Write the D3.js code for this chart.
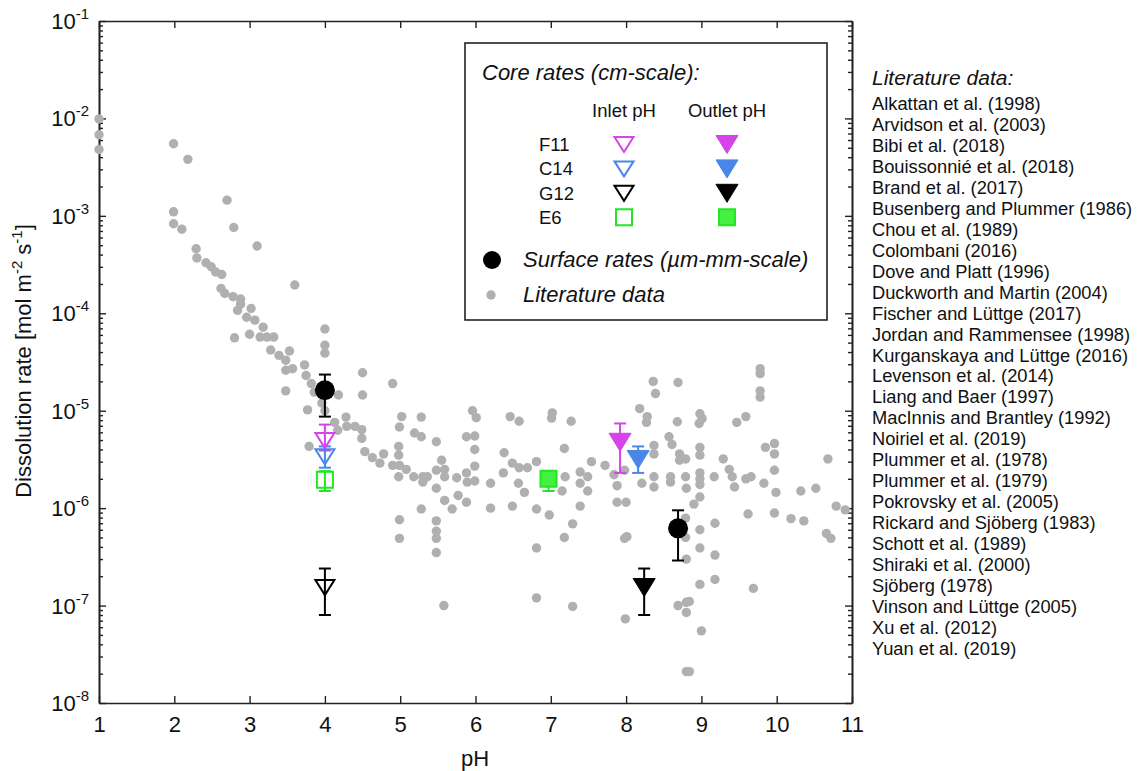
<!DOCTYPE html>
<html>
<head>
<meta charset="utf-8">
<script src="https://cdn.jsdelivr.net/npm/d3@7"></script>
<style>
  body { margin: 0; background: #fff; }
  text { font-family: "Liberation Sans", Arial, sans-serif; }
</style>
</head>
<body>
<svg id="chart" width="1141" height="771"></svg>
<script>
// literature data [pH, rate in mol m-2 s-1]
var litData = [
  [1.00,9.9e-3],[1.00,6.8e-3],[1.00,4.8e-3],[1.99,5.5e-3],[2.18,3.8e-3],[2.70,1.45e-3],[1.99,1.1e-3],[1.99,8.3e-4],
  [2.10,7.3e-4],[2.79,7.6e-4],[3.10,4.9e-4],[2.29,4.6e-4],[2.30,3.7e-4],[2.42,3.3e-4],[2.49,3.0e-4],[2.55,2.65e-4],
  [2.63,2.5e-4],[3.60,1.95e-4],[2.62,1.8e-4],[2.67,1.6e-4],[2.78,1.48e-4],[2.88,1.4e-4],[2.88,1.24e-4],[2.84,1.07e-4],
  [3.02,1.12e-4],[2.96,9.1e-5],[3.07,8.5e-5],[3.18,7.2e-5],[4.00,6.9e-5],[2.80,5.6e-5],[3.00,6.1e-5],[3.14,5.7e-5],
  [3.23,5.7e-5],[3.32,5.7e-5],[3.28,4.2e-5],[3.39,3.7e-5],[3.48,3.3e-5],[3.53,4.1e-5],[4.00,4.7e-5],[4.00,3.9e-5],
  [3.73,2.95e-5],[3.48,2.6e-5],[3.57,2.7e-5],[3.75,2.3e-5],[3.82,1.9e-5],[3.48,1.6e-5],[3.86,1.55e-5],[4.18,1.45e-5],
  [4.50,2.45e-5],[4.50,1.45e-5],[3.77,1.02e-5],[3.96,1.2e-5],[4.00,1.0e-5],[4.13,7.6e-6],[4.17,6.3e-6],[4.28,8.6e-6],
  [4.29,6.9e-6],[4.40,6.9e-6],[4.49,6.4e-6],[4.49,5.2e-6],[4.53,3.8e-6],[4.63,3.3e-6],[4.73,2.9e-6],[4.78,3.6e-6],
  [3.79,4.3e-6],[4.90,1.9e-5],
  [5.02,8.7e-6],[4.99,6.8e-6],[5.28,8.6e-6],[5.19,5.9e-6],[5.28,5.4e-6],[4.98,4.3e-6],[4.98,3.5e-6],[5.48,4.8e-6],
  [4.90,2.75e-6],[4.99,2.75e-6],[5.08,2.5e-6],[5.55,3.1e-6],[5.18,2.1e-6],[5.30,2.1e-6],[5.36,2.1e-6],[5.48,2.45e-6],
  [5.59,2.5e-6],[5.59,2.1e-6],[5.75,2.05e-6],[5.88,2.3e-6],[5.88,5.4e-6],[5.99,5.5e-6],[5.99,4.0e-6],[5.96,1.0e-5],
  [6.01,8.5e-6],[5.99,2.7e-6],[4.98,2.1e-6],[5.30,1.85e-6],[5.48,1.6e-6],[5.59,1.2e-6],[5.77,1.35e-6],[5.69,9.8e-7],
  [5.88,1.15e-6],[5.28,9.8e-7],[4.99,7.6e-7],[4.99,4.9e-7],[5.48,7.4e-7],[5.48,5.8e-7],[5.48,4.9e-7],[5.48,3.5e-7],
  [5.58,1.0e-7],[5.89,1.85e-6],[5.99,1.9e-6],[6.20,1.8e-6],[6.37,2.3e-6],[6.49,2.9e-6],[6.58,2.6e-6],[6.69,2.6e-6],
  [6.81,3.0e-6],[6.38,3.7e-6],[6.46,8.7e-6],[6.58,7.8e-6],[6.57,1.8e-6],[6.65,1.45e-6],[6.20,1.0e-6],[6.49,1.05e-6],
  [6.81,9.8e-7],[6.98,8.5e-7],[6.81,3.9e-7],[6.81,1.2e-7],[7.02,9.5e-6],[7.01,8.4e-6],[7.27,7.8e-6],[7.18,4.1e-6],
  [7.19,2.1e-6],[7.15,1.5e-6],[7.39,2.35e-6],[7.39,1.8e-6],[7.49,2.1e-6],[7.49,1.5e-6],[7.54,3.0e-6],[7.39,1.05e-6],
  [7.29,6.9e-7],[7.18,5.0e-7],[7.29,9.8e-8],[7.72,2.75e-6],
  [7.88,1.7e-6],[7.84,2.2e-6],[7.88,1.15e-6],[8.00,1.15e-6],[7.98,4.9e-7],[8.01,5.1e-7],[7.99,7.3e-8],[7.98,2.45e-6],
  [8.18,1.05e-5],[8.28,8.7e-6],[8.27,7.6e-6],[8.36,2.0e-5],[8.39,1.5e-5],[8.37,4.4e-6],[8.37,3.6e-6],[8.37,2.1e-6],
  [8.37,1.65e-6],[8.21,1.8e-6],[8.68,7.7e-6],[8.69,1.95e-5],[8.57,5.4e-6],[8.61,4.5e-6],[8.71,3.6e-6],[8.71,3.1e-6],
  [8.79,3.2e-6],[8.59,2.1e-6],[8.59,1.85e-6],[8.79,2.1e-6],[8.80,1.6e-6],[8.98,9.3e-6],[9.01,8.3e-6],[8.97,7.4e-6],
  [8.98,4.2e-6],[8.98,3.5e-6],[8.98,2.3e-6],[8.98,2.0e-6],[8.98,1.75e-6],[8.98,1.3e-6],[8.90,1.1e-6],[8.79,7.9e-7],
  [8.79,5.0e-7],[8.80,3.0e-7],[8.98,6.0e-7],[8.98,3.9e-7],[8.98,1.65e-7],[9.18,7.0e-7],[9.18,3.3e-7],[9.18,1.85e-7],
  [9.69,1.5e-7],[8.69,1.0e-7],[8.80,1.08e-7],[8.84,1.1e-7],[8.80,8.5e-8],[9.00,5.5e-8],[8.80,2.1e-8],[8.84,2.1e-8],
  [9.17,2.1e-6],[9.29,3.2e-6],[9.37,2.5e-6],[9.41,2.1e-6],[9.44,1.65e-6],[9.59,2.0e-6],[9.66,2.1e-6],[9.47,7.6e-6],
  [9.59,8.7e-6],[9.78,2.7e-5],[9.78,2.4e-5],[9.78,1.6e-5],[9.78,1.38e-5],[9.85,4.2e-6],[9.97,4.6e-6],[9.97,3.6e-6],
  [9.97,2.45e-6],[9.83,1.8e-6],[9.99,1.45e-6],[10.32,1.5e-6],[10.52,1.6e-6],[10.68,3.2e-6],[10.79,1.05e-6],[10.91,9.6e-7],
  [9.62,8.7e-7],[9.97,8.9e-7],[10.19,7.8e-7],[10.36,7.4e-7],[10.66,5.5e-7],[10.72,4.9e-7]
];

// core samples
var cores = ["F11", "C14", "G12", "E6"];
var inletPH = [4.0, 4.0, 4.0, 4.0];
var inletRate = [5.0e-6, 3.4e-6, 1.55e-7, 1.96e-6];
var inletLow = [3.9e-6, 2.6e-6, 8.0e-8, 1.5e-6];
var inletHigh = [7.2e-6, 4.3e-6, 2.4e-7, 2.4e-6];
var outletPH = [7.92, 8.16, 8.24, 6.97];
var outletRate = [4.8e-6, 3.2e-6, 1.55e-7, 2.0e-6];
var outletLow = [2.3e-6, 2.3e-6, 8.0e-8, 1.5e-6];
var outletHigh = [7.4e-6, 4.3e-6, 2.4e-7, 2.4e-6];

// surface rates
var surfacePH = [4.0, 8.69];
var surfaceRate = [1.62e-5, 6.2e-7];
var surfaceLow = [8.7e-6, 2.9e-7];
var surfaceHigh = [2.35e-5, 9.5e-7];

var xTicks = [1, 2, 3, 4, 5, 6, 7, 8, 9, 10, 11];
var yExps = [-8, -7, -6, -5, -4, -3, -2, -1];

var refs = [
  "Alkattan et al. (1998)", "Arvidson et al. (2003)", "Bibi et al. (2018)", "Bouissonnié et al. (2018)",
  "Brand et al. (2017)", "Busenberg and Plummer (1986)", "Chou et al. (1989)", "Colombani (2016)",
  "Dove and Platt (1996)", "Duckworth and Martin (2004)", "Fischer and Lüttge (2017)", "Jordan and Rammensee (1998)",
  "Kurganskaya and Lüttge (2016)", "Levenson et al. (2014)", "Liang and Baer (1997)", "MacInnis and Brantley (1992)",
  "Noiriel et al. (2019)", "Plummer et al. (1978)", "Plummer et al. (1979)", "Pokrovsky et al. (2005)",
  "Rickard and Sjöberg (1983)", "Schott et al. (1989)", "Shiraki et al. (2000)", "Sjöberg (1978)",
  "Vinson and Lüttge (2005)", "Xu et al. (2012)", "Yuan et al. (2019)"
];

var colors = { F11: "#d444e8", C14: "#4a86e8", G12: "#000000", E6: "#22e622" };
var greenFill = "#45f045";
var grey = "#b0b0b0";

var svg = d3.select("#chart");

var x = d3.scaleLinear().domain([1, 11]).range([99, 852]);
var y = d3.scaleLog().domain([1e-8, 1e-1]).range([703, 21]);

var decades = yExps.map(function(e){ return Math.pow(10, e); });
var minors = y.ticks().filter(function(v){
  var l = Math.log10(v);
  return Math.abs(l - Math.round(l)) > 1e-6;
});

function styleAxis(g) {
  g.select(".domain").attr("stroke", "#222").attr("stroke-width", 1.6);
  g.selectAll(".tick line").attr("stroke", "#222").attr("stroke-width", 1.4);
}

// axes
svg.append("g").attr("transform", "translate(0,703)")
  .call(d3.axisBottom(x).tickValues(xTicks).tickSize(-7).tickSizeOuter(0).tickPadding(13).tickFormat(d3.format("d")))
  .call(styleAxis)
  .selectAll("text").attr("font-size", 22).attr("fill", "#111")
  .attr("font-family", "Liberation Sans, Arial, sans-serif");

svg.append("g").attr("transform", "translate(0,21)")
  .call(d3.axisTop(x).tickValues(xTicks).tickSize(-7).tickSizeOuter(0).tickFormat(""))
  .call(styleAxis);

svg.append("g").attr("transform", "translate(99,0)")
  .call(d3.axisLeft(y).tickValues(decades).tickSize(-7).tickSizeOuter(0).tickFormat(""))
  .call(styleAxis);
svg.append("g").attr("transform", "translate(99,0)")
  .call(d3.axisLeft(y).tickValues(minors).tickSize(-4).tickSizeOuter(0).tickFormat(""))
  .call(styleAxis);
svg.append("g").attr("transform", "translate(852,0)")
  .call(d3.axisRight(y).tickValues(decades).tickSize(-7).tickSizeOuter(0).tickFormat(""))
  .call(styleAxis);
svg.append("g").attr("transform", "translate(852,0)")
  .call(d3.axisRight(y).tickValues(minors).tickSize(-4).tickSizeOuter(0).tickFormat(""))
  .call(styleAxis);

// y tick labels with superscripts
var ylab = svg.append("g").selectAll("text").data(yExps).enter().append("text")
  .attr("x", 89)
  .attr("y", function(e){ return y(Math.pow(10, e)) + 8; })
  .attr("text-anchor", "end")
  .attr("fill", "#111");
ylab.append("tspan").attr("font-size", 22).text("10");
ylab.append("tspan").attr("font-size", 15).attr("dy", -10).text(function(e){ return e; });

// axis titles
svg.append("text").attr("x", 475).attr("y", 766).attr("text-anchor", "middle")
  .attr("font-size", 22).attr("fill", "#111").text("pH");

var yt = svg.append("text").attr("transform", "translate(31,361) rotate(-90)")
  .attr("text-anchor", "middle").attr("font-size", 22).attr("fill", "#111");
yt.append("tspan").text("Dissolution rate [mol m");
yt.append("tspan").attr("font-size", 15).attr("dy", -9).text("-2");
yt.append("tspan").attr("dy", 9).text(" s");
yt.append("tspan").attr("font-size", 15).attr("dy", -9).text("-1");
yt.append("tspan").attr("dy", 9).text("]");

// literature points
svg.append("g").selectAll("circle").data(litData).enter().append("circle")
  .attr("cx", function(d){ return x(d[0]); })
  .attr("cy", function(d){ return y(d[1]); })
  .attr("r", 4.7)
  .attr("fill", grey);

function triDown(hw, top, bot) {
  return "M" + (-hw) + "," + (-top) + "L" + hw + "," + (-top) + "L0," + bot + "Z";
}
function square(h) {
  return "M" + (-h) + "," + (-h) + "H" + h + "V" + h + "H" + (-h) + "Z";
}

function errorBar(g, px, lo, hi, col) {
  var xx = x(px);
  g.append("line").attr("x1", xx).attr("x2", xx).attr("y1", y(lo)).attr("y2", y(hi))
    .attr("stroke", col).attr("stroke-width", 2);
  [lo, hi].forEach(function(v){
    g.append("line").attr("x1", xx - 6).attr("x2", xx + 6).attr("y1", y(v)).attr("y2", y(v))
      .attr("stroke", col).attr("stroke-width", 2);
  });
}

var marks = svg.append("g");

// error bars first
cores.forEach(function(c, i){
  errorBar(marks, inletPH[i], inletLow[i], inletHigh[i], colors[c]);
  errorBar(marks, outletPH[i], outletLow[i], outletHigh[i], colors[c]);
});
surfacePH.forEach(function(p, i){
  errorBar(marks, p, surfaceLow[i], surfaceHigh[i], "#000");
});

function drawMarker(g, c, filled, cx, cy) {
  var col = colors[c];
  if (c === "E6") {
    g.append("path").attr("d", square(8))
      .attr("transform", "translate(" + cx + "," + cy + ")")
      .attr("fill", filled ? greenFill : "none")
      .attr("stroke", col).attr("stroke-width", 2);
  } else if (filled) {
    g.append("path").attr("d", triDown(11, 8.5, 9.5))
      .attr("transform", "translate(" + cx + "," + cy + ")")
      .attr("fill", col).attr("stroke", col).attr("stroke-width", 1);
  } else {
    g.append("path").attr("d", triDown(9.5, 7, 8))
      .attr("transform", "translate(" + cx + "," + cy + ")")
      .attr("fill", "none").attr("stroke", col).attr("stroke-width", 2);
  }
}

cores.forEach(function(c, i){
  drawMarker(marks, c, false, x(inletPH[i]), y(inletRate[i]));
  drawMarker(marks, c, true, x(outletPH[i]), y(outletRate[i]));
});

marks.selectAll("circle.surf").data(surfacePH).enter().append("circle")
  .attr("class", "surf")
  .attr("cx", function(d){ return x(d); })
  .attr("cy", function(d, i){ return y(surfaceRate[i]); })
  .attr("r", 10)
  .attr("fill", "#000");

// legend
var lg = svg.append("g");
lg.append("rect").attr("x", 465).attr("y", 43).attr("width", 362).attr("height", 277)
  .attr("fill", "#fff").attr("stroke", "#222").attr("stroke-width", 1.6);
lg.append("text").attr("x", 482).attr("y", 80).attr("font-size", 22).attr("font-style", "italic")
  .attr("fill", "#111").text("Core rates (cm-scale):");
lg.append("text").attr("x", 624).attr("y", 117).attr("text-anchor", "middle").attr("font-size", 18.5)
  .attr("fill", "#111").text("Inlet pH");
lg.append("text").attr("x", 727).attr("y", 117).attr("text-anchor", "middle").attr("font-size", 18.5)
  .attr("fill", "#111").text("Outlet pH");
cores.forEach(function(c, i){
  var by = 151 + i * 24.4;
  lg.append("text").attr("x", 539).attr("y", by).attr("font-size", 18.5).attr("fill", "#111").text(c);
  drawMarker(lg, c, false, 624, by - 7);
  drawMarker(lg, c, true, 727, by - 7);
});
lg.append("circle").attr("cx", 492).attr("cy", 260).attr("r", 9).attr("fill", "#000");
lg.append("text").attr("x", 523).attr("y", 267).attr("font-size", 22).attr("font-style", "italic")
  .attr("fill", "#111").text("Surface rates (\u00b5m-mm-scale)");
lg.append("circle").attr("cx", 491).attr("cy", 295).attr("r", 4.7).attr("fill", grey);
lg.append("text").attr("x", 523).attr("y", 302).attr("font-size", 22).attr("font-style", "italic")
  .attr("fill", "#111").text("Literature data");

// reference list
var rl = svg.append("g");
rl.append("text").attr("x", 872).attr("y", 85).attr("font-size", 21).attr("font-style", "italic")
  .attr("fill", "#111").text("Literature data:");
rl.selectAll("text.ref").data(refs).enter().append("text")
  .attr("class", "ref")
  .attr("x", 872)
  .attr("y", function(d, i){ return 110 + i * 20.96; })
  .attr("font-size", 18.3)
  .attr("fill", "#111")
  .text(function(d){ return d; });
</script>
</body>
</html>
